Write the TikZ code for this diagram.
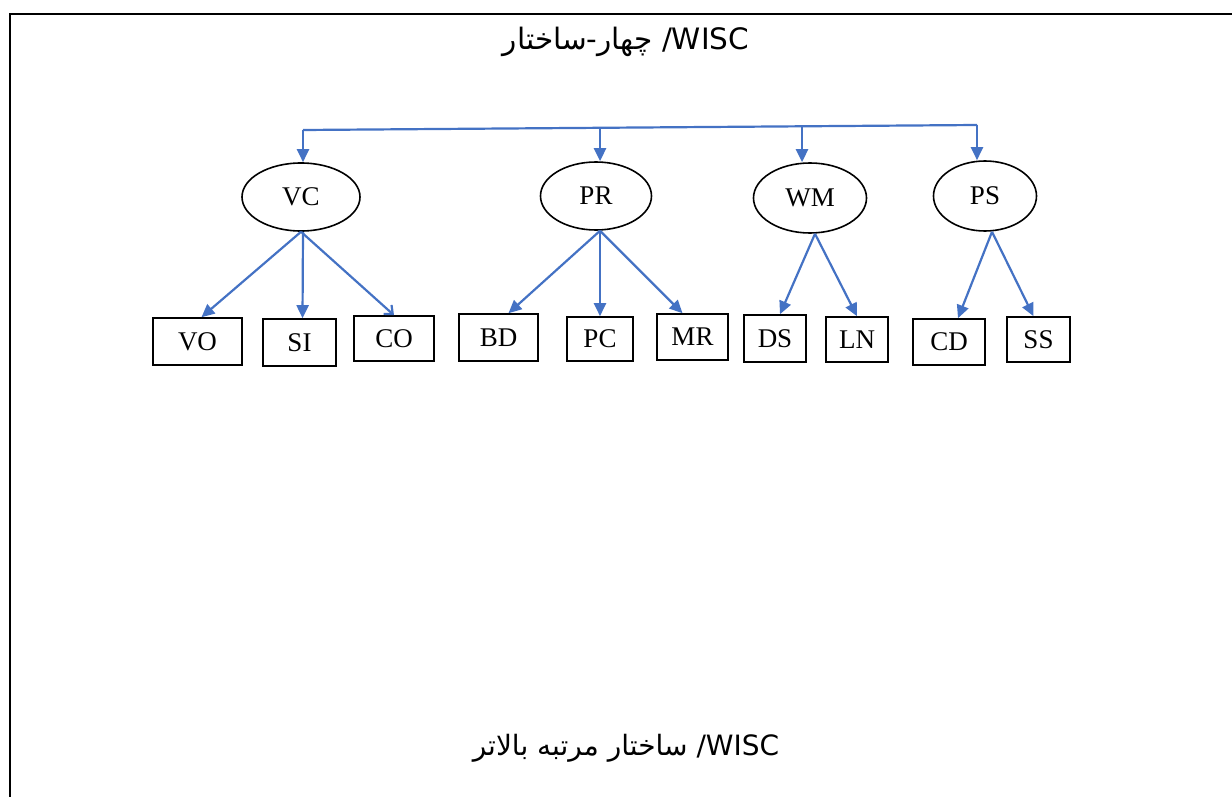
\documentclass[tikz,border=0pt]{standalone}
\usepackage{fontspec}
\setmainfont{Liberation Serif}
\newfontfamily\arabicfont[Script=Arabic]{DejaVu Sans}
\TeXXeTstate=1
\usetikzlibrary{positioning,shapes.geometric,arrows.meta,calc}
\definecolor{linkblue}{RGB}{68,114,196}
\tikzset{
  factor/.style={draw, ellipse, line width=1.6pt, inner sep=0pt, font=\fontsize{27}{27}\selectfont},
  subtest/.style={draw, rectangle, line width=1.6pt, inner sep=0pt, font=\fontsize{27}{27}\selectfont},
  link/.style={linkblue, line width=2.2pt, -{Triangle[length=13pt,width=12pt]}},
  caption/.style={font=\arabicfont\fontsize{28}{28}\selectfont, anchor=base, inner sep=0pt}
}

\begin{document}
\begin{tikzpicture}[x=1pt,y=-1pt]
    \useasboundingbox (0,0) rectangle (1232,797);
    \draw[line width=2.5pt] (10,797) -- (10,14) -- (1232,14);

    \node[caption, font=\arabicfont\fontsize{29.5}{29.5}\selectfont] (top) at (626,50) {\beginR\beginL WISC\endL/ چهار-ساختار\endR};
    \node[caption] (bottom) at (626,755) {\beginR\beginL WISC\endL/ ساختار مرتبه بالاتر\endR};

    \node[factor, minimum width=118pt, minimum height=68pt] (VC) at (301,197) {VC};
    \node[factor, minimum width=111pt, minimum height=68pt] (PR) at (596,196) {PR};
    \node[factor, minimum width=113pt, minimum height=70pt] (WM) at (810,198) {WM};
    \node[factor, minimum width=103pt, minimum height=70pt] (PS) at (985,196) {PS};

    \node[subtest, minimum width=89pt, minimum height=47pt] (VO) at (197.5,341.5) {VO};
    \node[subtest, minimum width=73pt, minimum height=47pt] (SI) at (299.5,342.5) {SI};
    \node[subtest, minimum width=80pt, minimum height=45pt] (CO) at (394,338.5) {CO};
    \node[subtest, minimum width=79pt, minimum height=47pt] (BD) at (498.5,337.5) {BD};
    \node[subtest, minimum width=66pt, minimum height=44pt] (PC) at (600,339) {PC};
    \node[subtest, minimum width=71pt, minimum height=46pt] (MR) at (692.5,337) {MR};
    \node[subtest, minimum width=62pt, minimum height=47pt] (DS) at (775,338.5) {DS};
    \node[subtest, minimum width=62pt, minimum height=45pt] (LN) at (857,339.5) {LN};
    \node[subtest, minimum width=72pt, minimum height=46pt] (CD) at (949,342) {CD};
    \node[subtest, minimum width=63pt, minimum height=45pt] (SS) at (1038.5,339.5) {SS};

    \coordinate (bar-l) at (303,130);
    \coordinate (bar-r) at (977,125);
    \coordinate (bar-pr) at ($(bar-l)!0.4407!(bar-r)$);
    \coordinate (bar-wm) at ($(bar-l)!0.7404!(bar-r)$);
    \draw[linkblue, line width=2.2pt] (bar-l) -- (bar-r);
    \draw[link] (bar-l) -- (bar-l |- VC.north);
    \draw[link] (bar-pr) -- (bar-pr |- PR.north);
    \draw[link] (bar-wm) -- (bar-wm |- WM.north);
    \draw[link] (bar-r) -- (bar-r |- PS.north);

    \draw[link] (VC.south) -- ([xshift=4pt]VO.north);
    \draw[link] ([xshift=2pt]VC.south) -- ([xshift=3pt]SI.north);
    \draw[link, -{Straight Barb[length=7pt,width=12pt]}] (VC.south) -- (CO.north);

    \draw[link] ([xshift=4pt]PR.south) -- ([xshift=10pt]BD.north);
    \draw[link] ([xshift=4pt]PR.south) -- (PC.north);
    \draw[link] ([xshift=4pt]PR.south) -- ([xshift=-10pt]MR.north);

    \draw[link] ([xshift=5pt]WM.south) -- ([xshift=5pt]DS.north);
    \draw[link] ([xshift=5pt]WM.south) -- (LN.north);

    \draw[link] ([xshift=7pt]PS.south) -- ([xshift=9pt]CD.north);
    \draw[link] ([xshift=7pt]PS.south) -- ([xshift=-5pt]SS.north);

\end{tikzpicture}
\end{document}
